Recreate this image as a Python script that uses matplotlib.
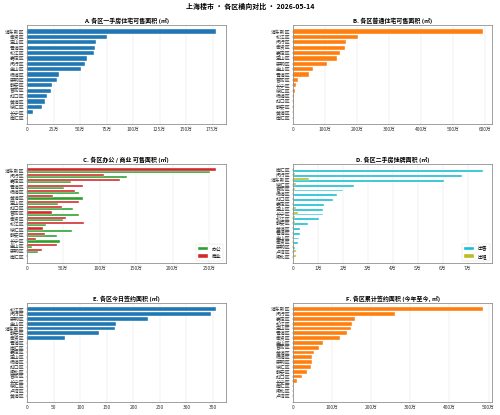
import matplotlib
matplotlib.use('Agg')
import matplotlib.pyplot as plt
import numpy as np

plt.rcParams['font.family'] = ['Noto Sans CJK SC', 'DejaVu Sans']
plt.rcParams['axes.unicode_minus'] = False

# A. 一手房住宅可售面积 (万㎡)
a_names = ['浦东新区', '奉贤区', '宝山区', '青浦区', '松江区', '嘉定区', '闵行区', '金山区', '杨浦区',
           '崇明区', '静安区', '普陀区', '虹口区', '黄浦区', '徐汇区', '长宁区', '南汇区']
a_vals = [178.5, 75.7, 65.0, 64.0, 63.4, 57.0, 54.9, 50.8, 30.3, 28.0, 23.3, 22.7, 19.2, 16.7, 14.2, 5.7, 0.3]

# B. 普通住宅可售面积 (万㎡)
b_names = ['浦东新区', '松江区', '闵行区', '奉贤区', '嘉定区', '宝山区', '崇明区', '金山区', '青浦区',
           '普陀区', '长宁区', '徐汇区', '杨浦区', '虹口区', '静安区', '黄浦区', '南汇区']
b_vals = [592, 202, 165, 162, 146, 138, 105, 61, 49, 15, 8, 4, 3, 3, 2.5, 0.3, 0]

# C. 办公 / 商业 可售面积 (万㎡)
c_names = ['浦东新区', '闵行区', '嘉定区', '青浦区', '杨浦区', '黄浦区', '宝山区', '虹口区', '普陀区',
           '奉贤区', '松江区', '徐汇区', '静安区', '长宁区', '金山区', '崇明区', '南汇区']
c_office = [251, 138, 60, 51, 72, 77, 42, 63, 71.5, 50, 26, 62, 40.6, 46, 7.4, 14.8, 0]
c_shop = [260, 106, 128, 77, 66, 36, 71, 47.5, 35, 54, 78, 22, 25, 13, 40.6, 20, 0]

# D. 二手房挂牌面积 (万㎡)
d_names = ['南汇区', '闵行区', '浦东新区', '徐汇区', '普陀区', '杨浦区', '虹口区', '嘉定区', '宝山区',
           '长宁区', '松江区', '静安区', '黄浦区', '青浦区', '金山区', '奉贤区', '崇明区', '卢湾区', '闸北区']
d_sale = [7.59, 6.75, 6.06, 2.44, 2.0, 1.75, 1.58, 1.22, 1.2, 1.19, 1.04, 0.59, 0.27, 0.25, 0.24, 0.2, 0.05, 0.02, 0]
d_rent = [0.02, 0.05, 0.63, 0.12, 0.05, 0.04, 0.04, 0.03, 0.1, 0.19, 0.05, 0.05, 0.01, 0.01, 0.01, 0.01, 0.01, 0.1, 0.1]

# E. 今日签约面积 (㎡)
e_names = ['松江区', '闵行区', '崇明区', '金山区', '浦东新区', '静安区', '奉贤区', '青浦区', '南汇区', '嘉定区',
           '宝山区', '杨浦区', '虹口区', '闸北区', '普陀区', '长宁区', '徐汇区', '卢湾区', '黄浦区']
e_vals = [356, 346.5, 227, 166.7, 166, 135, 71, 0, 0, 0, 0, 0, 0, 0, 0, 0, 0, 0, 0]

# F. 累计签约面积 (今年至今, 万㎡)
f_names = ['浦东新区', '闵行区', '嘉定区', '松江区', '宝山区', '青浦区', '奉贤区', '金山区', '普陀区', '黄浦区',
           '杨浦区', '崇明区', '徐汇区', '静安区', '虹口区', '长宁区', '南汇区', '闸北区', '卢湾区']
f_vals = [484.6, 260.7, 158, 151, 147, 136.8, 118.8, 77, 66.7, 52, 47.9, 47.9, 45.3, 34, 21.4, 8.5, 0, 0, 0]


def wan(x, pos):
    if x == 0:
        return '0'
    return '%g万' % x


def style(ax, title):
    ax.set_title(title, fontsize=15.5, fontweight='bold', pad=6)
    ax.grid(axis='x', color='#dddddd', linewidth=1)
    ax.set_axisbelow(True)
    for s in ax.spines.values():
        s.set_color('#888888')
        s.set_linewidth(2)
    ax.tick_params(labelsize=12.5, colors='#333333')
    ax.invert_yaxis()


def one(ax, names, vals, color, title, fmt=True):
    y = np.arange(len(names))
    ax.barh(y, vals, height=0.8, color=color, edgecolor='white', linewidth=1)
    ax.set_yticks(y)
    ax.set_yticklabels(names)
    if fmt:
        ax.xaxis.set_major_formatter(plt.FuncFormatter(wan))
    style(ax, title)


def two(ax, names, v1, v2, c1, c2, l1, l2, title):
    y = np.arange(len(names))
    ax.barh(y + 0.2, v1, height=0.4, color=c1, edgecolor='white', linewidth=1, label=l1)
    ax.barh(y - 0.2, v2, height=0.4, color=c2, edgecolor='white', linewidth=1, label=l2)
    ax.set_yticks(y)
    ax.set_yticklabels(names)
    ax.xaxis.set_major_formatter(plt.FuncFormatter(wan))
    style(ax, title)
    ax.legend(loc='lower right', fontsize=12.5)


fig, axes = plt.subplots(3, 2, figsize=(18, 14.94))
fig.subplots_adjust(left=0.054, right=0.984, top=0.940, bottom=0.031, wspace=0.34, hspace=0.40)
fig.suptitle('上海楼市 · 各区横向对比 · 2026-05-14', fontsize=18, fontweight='bold', y=0.992)

one(axes[0, 0], a_names, a_vals, '#1f77b4', 'A. 各区一手房住宅可售面积 (㎡)')
axes[0, 0].set_xticks(np.arange(0, 176, 25))
one(axes[0, 1], b_names, b_vals, '#ff7f0e', 'B. 各区普通住宅可售面积 (㎡)')
axes[0, 1].set_xticks(np.arange(0, 601, 100))
two(axes[1, 0], c_names, c_office, c_shop, '#2ca02c', '#d62728', '办公', '商业', 'C. 各区办公 / 商业 可售面积 (㎡)')
two(axes[1, 1], d_names, d_sale, d_rent, '#17becf', '#bcbd22', '出售', '出租', 'D. 各区二手房挂牌面积 (㎡)')
one(axes[2, 0], e_names, e_vals, '#1f77b4', 'E. 各区今日签约面积 (㎡)', fmt=False)
one(axes[2, 1], f_names, f_vals, '#ff7f0e', 'F. 各区累计签约面积 (今年至今, ㎡)')

fig.savefig('out.png', dpi=500 / 18)
